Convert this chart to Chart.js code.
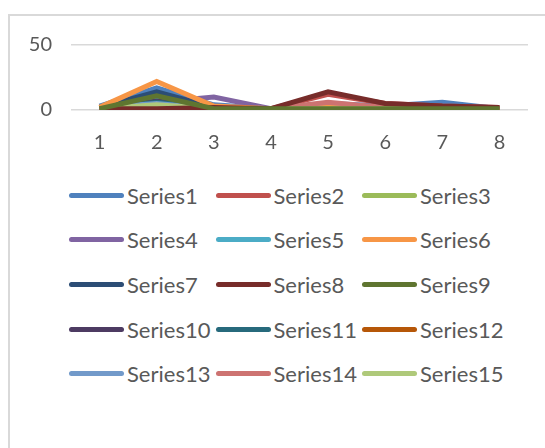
<!DOCTYPE html>
<html>
<head>
<meta charset="utf-8">
<script src="https://cdn.jsdelivr.net/npm/chart.js@4/dist/chart.umd.min.js"></script>
<style>
  html, body { margin: 0; padding: 0; background: #fff; overflow: hidden; }
  body { width: 545px; height: 448px; position: relative; font-family: Lato, "Open Sans", sans-serif; }
  #frame { position: absolute; left: 8px; top: 14px; width: 600px; height: 500px;
           border-left: 2px solid #d9d9d9; border-top: 2px solid #d9d9d9; box-sizing: border-box; }
  #wrap { position: absolute; left: 8px; top: 14px; width: 537px; height: 150px; }
  #legend { position: absolute; left: 69px; top: 173px; width: 470px; }
  .item { position: absolute; height: 44px; display: flex; align-items: center;
          color: #595959; font-size: 22px; white-space: nowrap; }
  .swatch { width: 55px; height: 5px; border-radius: 3px; margin-right: 3px; }
</style>
</head>
<body>
<div id="frame"></div>
<div id="wrap"><canvas id="chart"></canvas></div>
<div id="legend"></div>
<script>
const categories = ['1', '2', '3', '4', '5', '6', '7', '8'];

const series1  = [3, 17, 4, 1, 5, 3, 6, 1];
const series2  = [1, 2, 2, 1, 12, 5, 3, 2];
const series3  = [2, 8, 2, 1, 2, 1, 1, 1];
const series4  = [1, 6, 10, 1, 2, 1, 1, 1];
const series5  = [2, 9, 2, 1, 2, 1, 1, 1];
const series6  = [2, 22, 3, 1, 2, 1, 1, 1];
const series7  = [2, 14, 2, 1, 3, 2, 2, 1];
const series8  = [1, 1, 2, 1, 14, 5, 3, 2];
const series9  = [1, 11, 1, 1, 1, 1, 1, 1];
const series10 = [1, 7, 2, 1, 1, 1, 1, 1];
const series11 = [1, 6, 2, 1, 1, 1, 1, 1];
const series12 = [1, 3, 1, 1, 2, 1, 1, 1];
const series13 = [2, 5, 1, 1, 3, 1, 2, 1];
const series14 = [1, 2, 1, 1, 6, 2, 2, 1];
const series15 = [1, 4, 1, 1, 1, 1, 1, 1];

const seriesNames = ['Series1', 'Series2', 'Series3', 'Series4', 'Series5', 'Series6', 'Series7', 'Series8',
                     'Series9', 'Series10', 'Series11', 'Series12', 'Series13', 'Series14', 'Series15'];
const seriesValues = [series1, series2, series3, series4, series5, series6, series7, series8,
                      series9, series10, series11, series12, series13, series14, series15];
const colors = ['#4F81BD', '#C0504D', '#9BBB59', '#8064A2', '#4BACC6', '#F79646', '#2C4D75', '#772C2A',
                '#5F7530', '#4D3B62', '#276A7C', '#B65708', '#729ACA', '#CD7371', '#AFC97A'];

const yTicks = [0, 50];

// later series sit on top, as in the original
const drawOrder = [15, 14, 13, 12, 11, 5, 10, 2, 1, 9, 8, 7, 6, 4, 3];

const datasets = seriesNames.map((name, i) => ({
  label: name,
  data: seriesValues[i],
  borderColor: colors[i],
  backgroundColor: colors[i],
  borderWidth: 5,
  pointRadius: 0,
  tension: 0,
  fill: false,
  order: drawOrder[i]
}));

const chart = new Chart(document.getElementById('chart'), {
  type: 'line',
  data: { labels: categories, datasets: datasets },
  options: {
    responsive: true,
    maintainAspectRatio: false,
    animation: false,
    layout: { padding: { top: 29, right: 17, left: 0, bottom: 0 } },
    plugins: { legend: { display: false }, tooltip: { enabled: false } },
    scales: {
      x: {
        offset: true,
        grid: { display: false },
        border: { display: false },
        ticks: { color: '#595959', font: { family: 'Lato', size: 20 }, padding: 13 },
        afterFit: (s) => { s.height = 54; }
      },
      y: {
        min: 0,
        max: 50,
        afterBuildTicks: (s) => { s.ticks = yTicks.map(v => ({ value: v })); },
        grid: { color: '#d9d9d9', lineWidth: 1.5, drawTicks: false },
        border: { display: false },
        ticks: { color: '#595959', font: { family: 'Lato', size: 20 }, padding: 19 },
        afterFit: (s) => { s.width = 63; }
      }
    }
  }
});

// legend in three fixed columns, like the original
const legend = document.getElementById('legend');
seriesNames.forEach((name, i) => {
  const item = document.createElement('div');
  item.className = 'item';
  item.style.left = (i % 3) * 146.5 + 'px';
  item.style.top = Math.floor(i / 3) * 44.7 + 'px';
  const sw = document.createElement('span');
  sw.className = 'swatch';
  sw.style.background = colors[i];
  item.appendChild(sw);
  item.appendChild(document.createTextNode(name));
  legend.appendChild(item);
});
</script>
</body>
</html>
